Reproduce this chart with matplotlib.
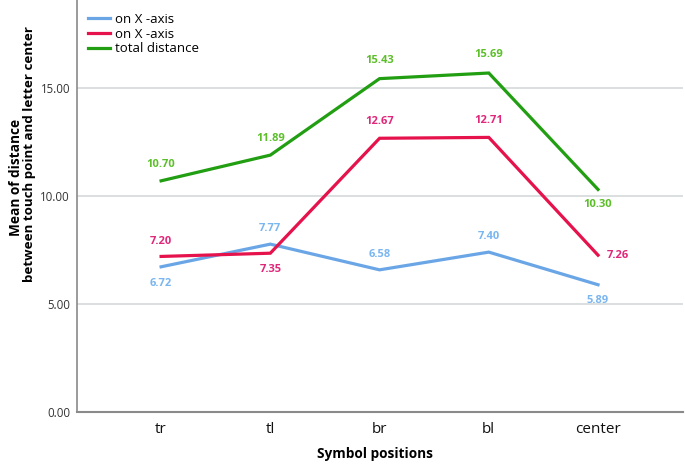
import matplotlib
matplotlib.use("Agg")
import matplotlib.pyplot as plt

categories = ["tr", "tl", "br", "bl", "center"]
on_x_blue = [6.72, 7.77, 6.58, 7.40, 5.89]
on_x_red = [7.20, 7.35, 12.67, 12.71, 7.26]
total = [10.70, 11.89, 15.43, 15.69, 10.30]
series_names = ["on X -axis", "on X -axis", "total distance"]
yticks = [0, 5, 10, 15]
ylabel_lines = ["Mean of distance", "between touch point and letter center"]

plt.rcParams['font.family'] = ['Open Sans', 'DejaVu Sans']

W, H = 685, 466
fig = plt.figure(figsize=(W / 100, H / 100), dpi=100)
ax = fig.add_axes([0.1124, 0.1159, 0.885, 0.8841])

line_cols = ["#6aa6e6", "#e5124c", "#229e12"]
lab_cols = ["#7ab6f0", "#e0287a", "#5cbf2a"]
x = list(range(len(categories)))
data = [on_x_blue, on_x_red, total]
for vals, c, name in zip(data, line_cols, series_names):
    ax.plot(x, vals, color=c, lw=2.3, label=name, solid_joinstyle='miter')

# label offsets (points): positive = above
offsets = {
    0: [(0, -12), (0, 11), (0, 11), (0, 11), (0, -11)],
    1: [(0, 11), (0, -12), (0, 12), (0, 12), (14, 0)],
    2: [(0, 12), (0, 12), (0, 13), (0, 13), (0, -10.5)],
}
for si, (vals, c) in enumerate(zip(data, lab_cols)):
    for i, v in enumerate(vals):
        dx, dy = offsets[si][i]
        ax.annotate(f"{v:.2f}", (i, v), xytext=(dx, dy), textcoords='offset points',
                    ha='center', va='center', color=c, fontsize=8, fontweight='bold')

ax.set_xlim(-0.77, 4.78)
ax.set_ylim(0, 19.07)
ax.set_yticks(yticks)
ax.set_yticklabels([f"{t:.2f}" for t in yticks], fontsize=8.3, color="#333333")
ax.set_xticks(x)
ax.set_xticklabels(categories, fontsize=11, color="#111111")
ax.tick_params(axis='both', length=0)
ax.tick_params(axis='x', pad=7)
ax.tick_params(axis='y', pad=5)
for t in yticks[1:]:
    ax.axhline(t, color="#d4d9d9", lw=1.2, zorder=0)
for s in ['top', 'right']:
    ax.spines[s].set_visible(False)
ax.spines['left'].set_color("#8a8a8a")
ax.spines['bottom'].set_color("#8a8a8a")
ax.spines['left'].set_linewidth(1.2)
ax.spines['bottom'].set_linewidth(1.5)

fig.text(375 / W, 1 - 454 / H, "Symbol positions", fontsize=9.8,
         fontweight='bold', ha='center', va='center')
fig.text(16 / W, 1 - 177 / H, ylabel_lines[0], rotation=90, fontsize=9.8,
         fontweight='bold', ha='center', va='center')
fig.text(30 / W, 1 - 154 / H, ylabel_lines[1], rotation=90, fontsize=9.6,
         fontweight='bold', ha='center', va='center')

leg = ax.legend(loc='upper left', bbox_to_anchor=(88 / W, 1 - 13 / H),
                bbox_transform=fig.transFigure, frameon=False,
                fontsize=9.5, handlelength=1.7, handletextpad=0.35,
                labelspacing=0.12, borderaxespad=0, borderpad=0)

fig.savefig("out.png", dpi=100)
